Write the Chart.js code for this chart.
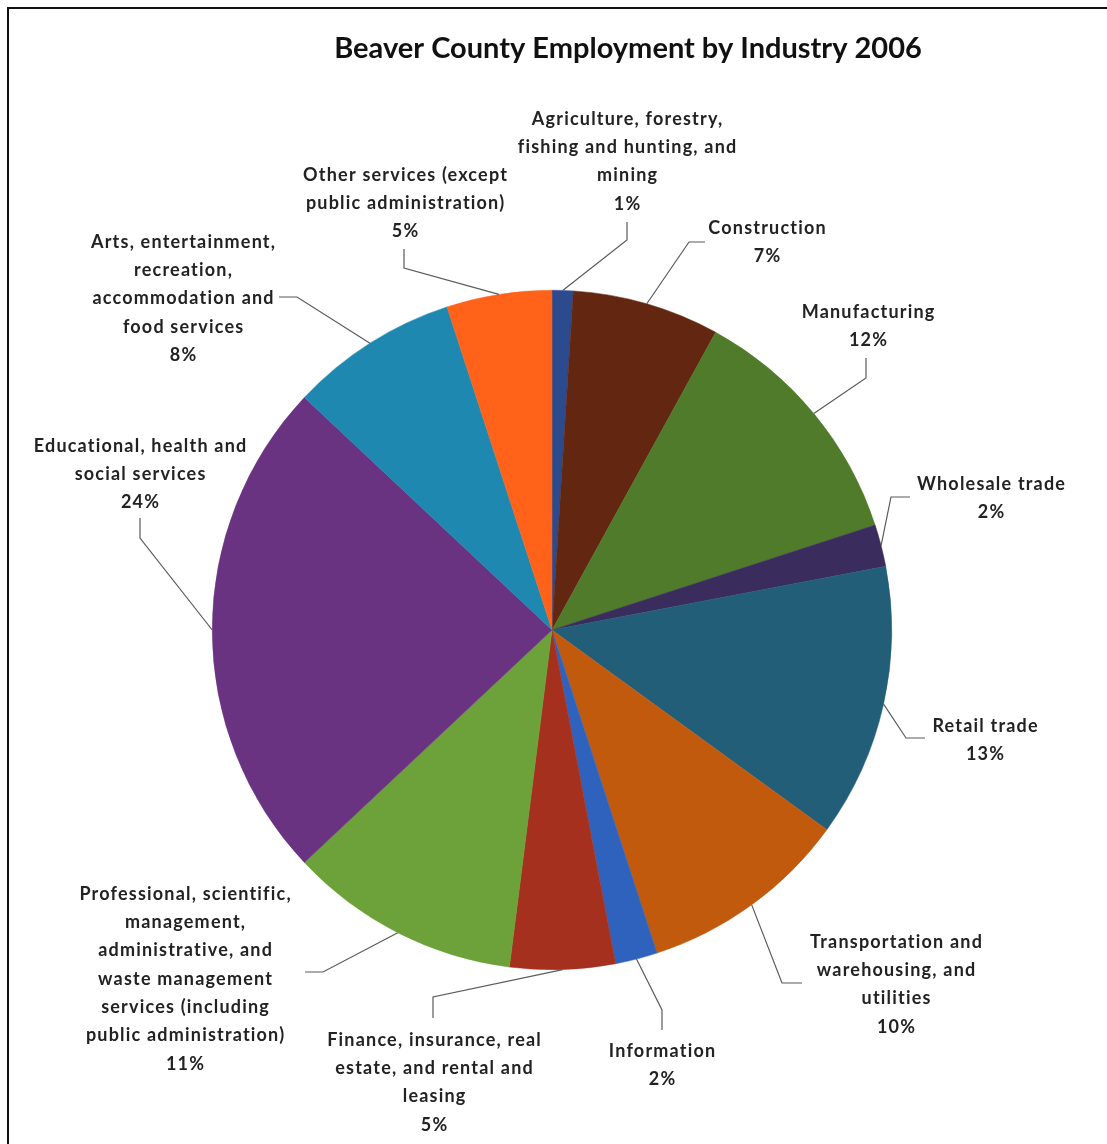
<!DOCTYPE html>
<html>
<head>
<meta charset="utf-8">
<title>Beaver County Employment by Industry 2006</title>
<script src="https://cdn.jsdelivr.net/npm/chart.js@4"></script>
<style>
  html, body { margin: 0; padding: 0; background: #fff; }
  #wrap { position: relative; width: 1107px; height: 1144px; }
</style>
</head>
<body>
<div id="wrap"><canvas id="industryPie" width="1107" height="1144"></canvas></div>
<script>
// industries, clockwise from 12 o'clock
const industries = [
  ["Agriculture, forestry,", "fishing and hunting, and", "mining"],
  ["Construction"],
  ["Manufacturing"],
  ["Wholesale trade"],
  ["Retail trade"],
  ["Transportation and", "warehousing, and", "utilities"],
  ["Information"],
  ["Finance, insurance, real", "estate, and rental and", "leasing"],
  ["Professional, scientific,", "management,", "administrative, and", "waste management", "services (including", "public administration)"],
  ["Educational, health and", "social services"],
  ["Arts, entertainment,", "recreation,", "accommodation and", "food services"],
  ["Other services (except", "public administration)"]
];

// share of employment, percent
const shares = [1, 7, 12, 2, 13, 10, 2, 5, 11, 24, 8, 5];

const sliceColors = [
  "#2c4a8e", "#632610", "#4f7b2b", "#3b2c5e", "#225e78", "#c25a0e",
  "#2f62bd", "#a5301d", "#6da23b", "#6a3381", "#1e88b0", "#ff6218"
];

// label block centre x / first line y, and leader elbow points
const labelLayout = [
  { x: 627, y: 119, elbow: [[627, 240], [627, 222]] },
  { x: 767, y: 228, elbow: [[689, 242], [705, 242]] },
  { x: 868, y: 312, elbow: [[866, 378], [866, 358]] },
  { x: 991, y: 484, elbow: [[891, 497], [910, 497]] },
  { x: 985, y: 726, elbow: [[906, 738], [925, 738]] },
  { x: 896, y: 942, elbow: [[782, 983], [802, 983]] },
  { x: 662, y: 1051, elbow: [[662, 1010], [662, 1030]] },
  { x: 434, y: 1040, elbow: [[433, 997], [433, 1018]] },
  { x: 185, y: 894, elbow: [[323, 972], [305, 972]] },
  { x: 140, y: 446, elbow: [[140, 538], [140, 518]] },
  { x: 183, y: 242, elbow: [[297, 297], [279, 297]] },
  { x: 405, y: 175, elbow: [[404, 268], [404, 249]] }
];

const LINE_H = 28.3;
const FONT = "Lato, 'Open Sans', sans-serif";

const outsideLabels = {
  id: "outsideLabels",
  afterDraw(chart) {
    const ctx = chart.ctx;
    const arcs = chart.getDatasetMeta(0).data;
    ctx.save();

    // frame
    ctx.strokeStyle = "#111";
    ctx.lineWidth = 2;
    ctx.beginPath();
    ctx.moveTo(8, 1144);
    ctx.lineTo(8, 8);
    ctx.lineTo(1107, 8);
    ctx.stroke();

    // title
    ctx.fillStyle = "#111";
    ctx.font = "bold 29px " + FONT;
    ctx.textAlign = "center";
    ctx.textBaseline = "middle";
    ctx.fillText("Beaver County Employment by Industry 2006", 628, 49);

    // leader lines
    ctx.strokeStyle = "#5a5a5a";
    ctx.lineWidth = 1.2;
    arcs.forEach((arc, i) => {
      const p = arc.getProps(["x", "y", "startAngle", "endAngle", "outerRadius"], true);
      const mid = (p.startAngle + p.endAngle) / 2;
      const sx = p.x + Math.cos(mid) * p.outerRadius;
      const sy = p.y + Math.sin(mid) * p.outerRadius;
      const pts = labelLayout[i].elbow;
      ctx.beginPath();
      ctx.moveTo(sx, sy);
      pts.forEach(pt => ctx.lineTo(pt[0], pt[1]));
      ctx.stroke();
    });

    // label text
    ctx.fillStyle = "#222";
    ctx.font = "bold 18px " + FONT;
    ctx.letterSpacing = "1.2px";
    industries.forEach((lines, i) => {
      const lay = labelLayout[i];
      const all = lines.concat([shares[i] + "%"]);
      all.forEach((t, k) => ctx.fillText(t, lay.x + 0.6, lay.y + k * LINE_H));
    });
    ctx.restore();
  }
};

new Chart(document.getElementById("industryPie"), {
  type: "pie",
  data: {
    labels: industries.map(l => l.join(" ")),
    datasets: [{
      data: shares,
      backgroundColor: sliceColors,
      borderColor: sliceColors,
      borderWidth: 0.5
    }]
  },
  options: {
    responsive: false,
    animation: false,
    layout: { padding: { left: 212, right: 215, top: 290, bottom: 174 } },
    plugins: {
      legend: { display: false },
      tooltip: { enabled: false }
    }
  },
  plugins: [outsideLabels]
});
</script>
</body>
</html>
